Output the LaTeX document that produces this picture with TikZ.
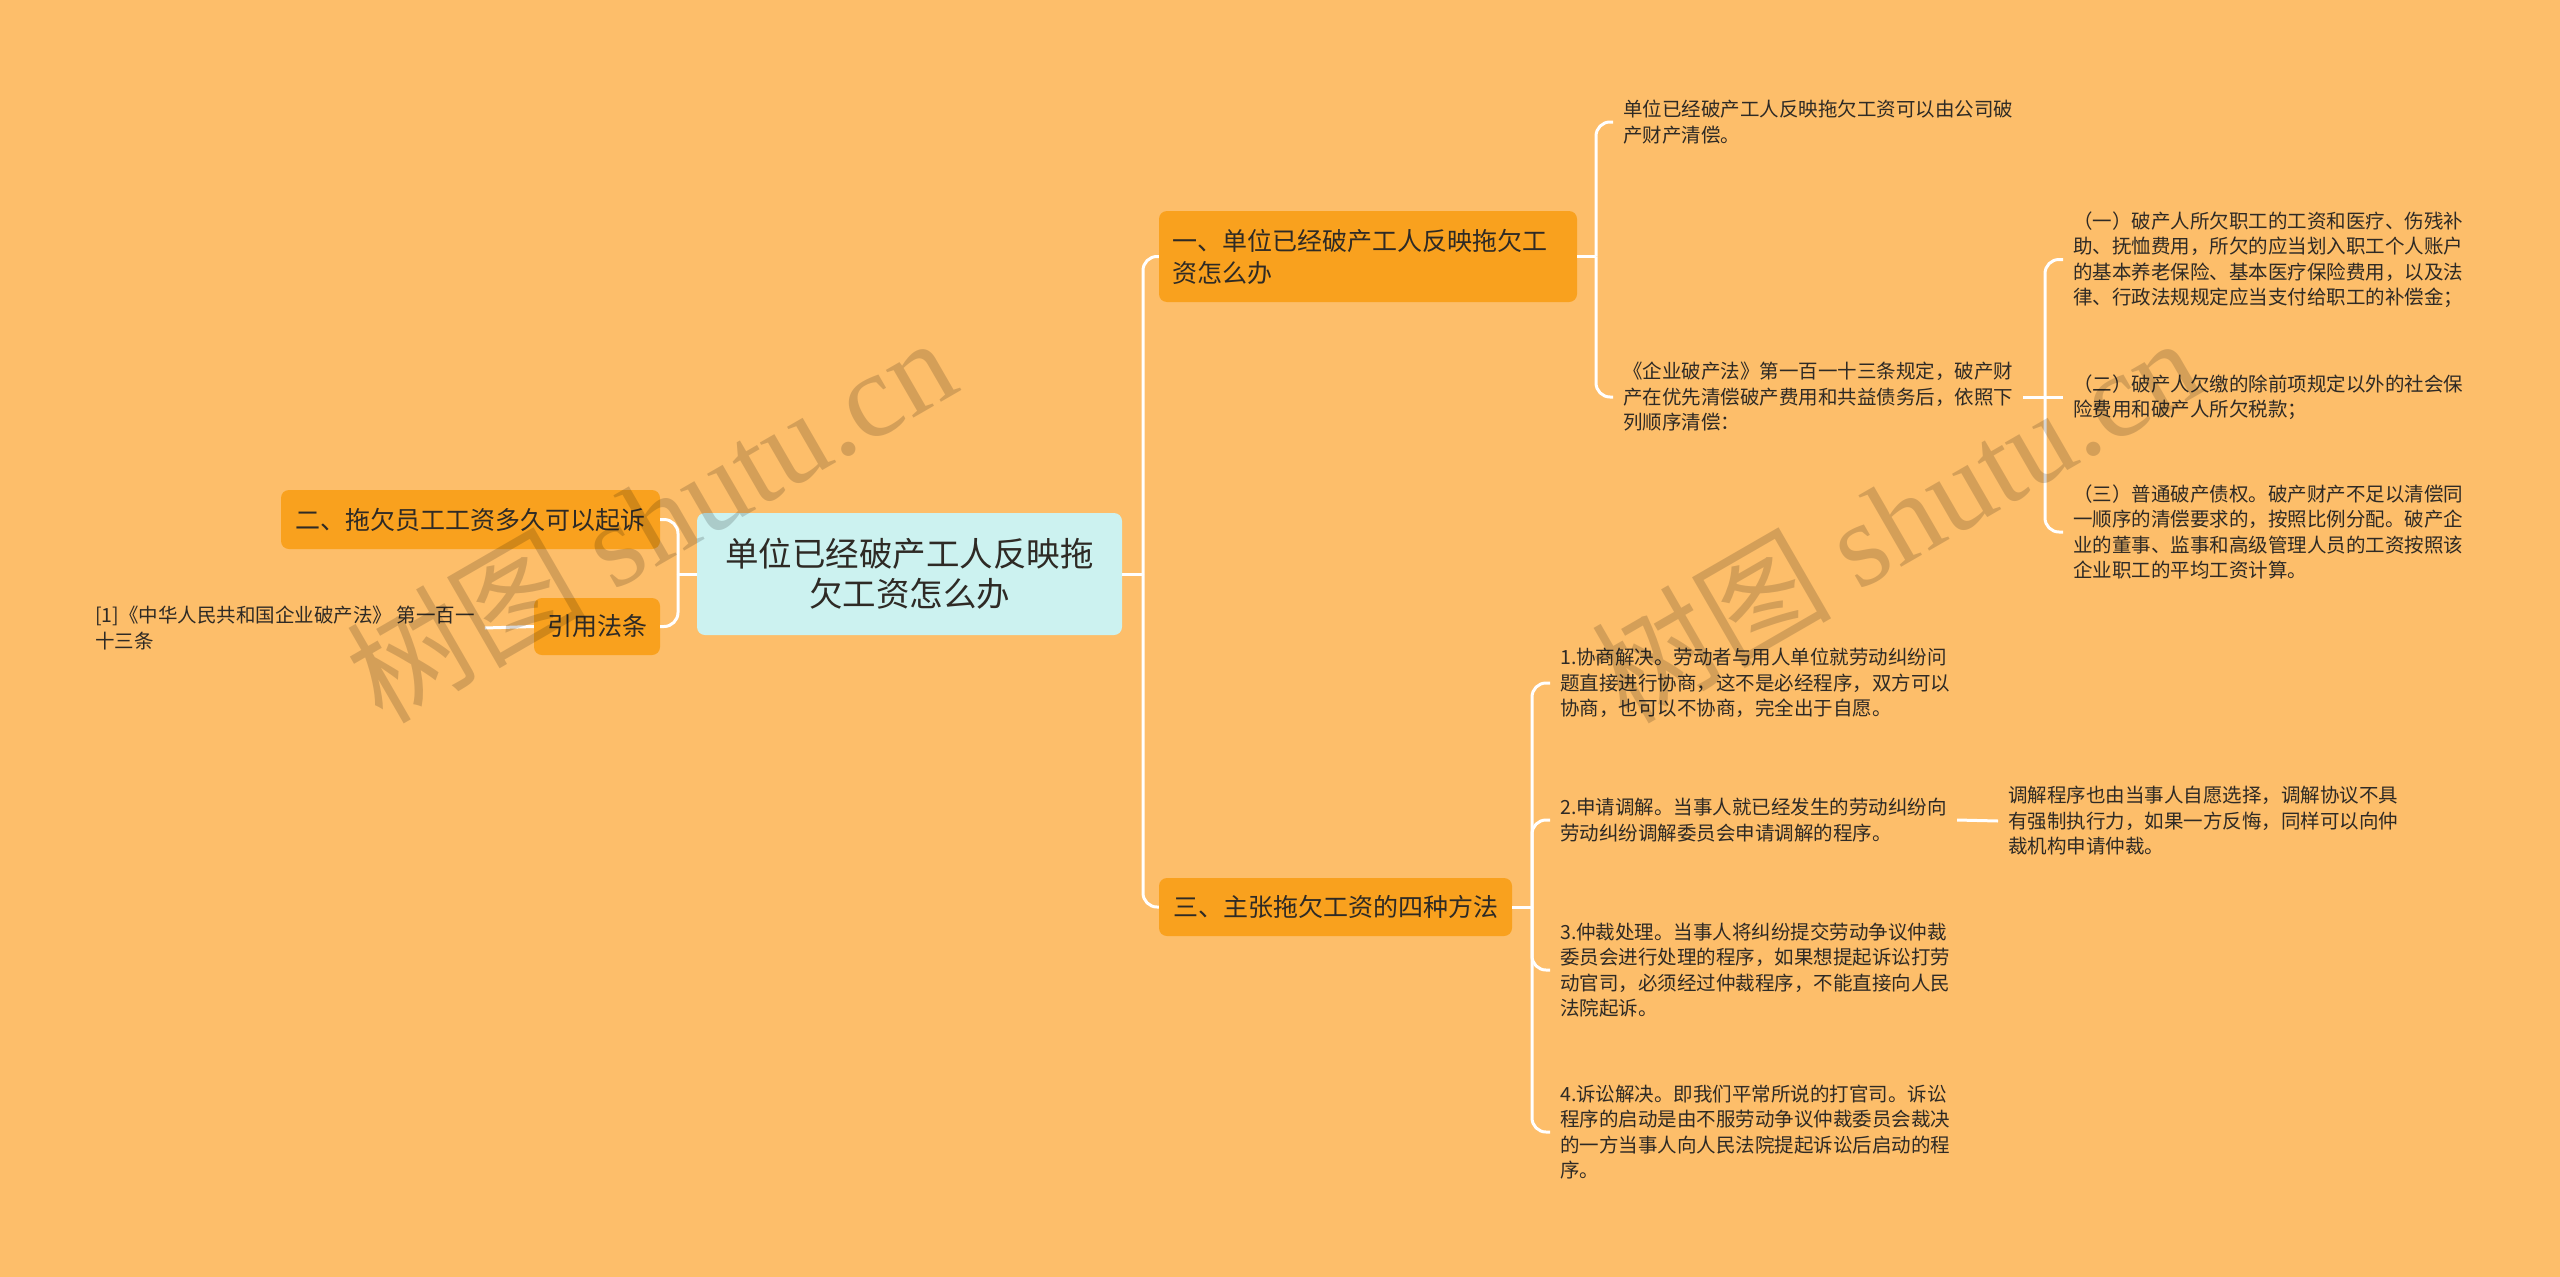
\documentclass[tikz,border=0pt]{standalone}
\usepackage{fontspec}
\setmainfont{Noto Sans CJK SC}
\newfontfamily\wmserif{Liberation Serif}
\newfontfamily\wmcjk{Noto Sans CJK SC}
\definecolor{bgc}{HTML}{FDBE6A}
\definecolor{oboxc}{HTML}{F9A11E}
\definecolor{cboxc}{HTML}{CCF2F0}
\definecolor{txtc}{HTML}{2E2A25}
\begin{document}
\begin{tikzpicture}[x=1pt,y=-1pt,
  conn/.style={draw=white, line width=3pt, rounded corners=14pt},
  obox/.style={fill=oboxc, rounded corners=8pt, text=txtc, inner sep=0pt,
    font=\fontsize{25}{32}\selectfont},
  leaf/.style={inner xsep=10pt, inner ysep=0pt, align=left, text=txtc, anchor=west,
    font=\fontsize{19.5}{25.5}\selectfont},
  wmark/.style={rotate=30, text=black, opacity=0.16, inner sep=0pt}]
\fill[bgc] (0,0) rectangle (2560,1277);
\useasboundingbox (0,0) rectangle (2560,1277);

% main nodes
\node[fill=cboxc, rounded corners=8pt, minimum width=425pt, minimum height=122pt,
  align=center, text=txtc, inner sep=0pt, font=\fontsize{33.5}{40}\selectfont]
  (root) at (909.5,574) {单位已经破产工人反映拖\\欠工资怎么办};
\node[obox, minimum width=418pt, minimum height=91pt, text width=392pt, align=left]
  (b1) at (1368,256.5) {一、单位已经破产工人反映拖欠工\\资怎么办};
\node[obox, minimum width=353pt, minimum height=58pt] (b3) at (1335.5,907) {三、主张拖欠工资的四种方法};
\node[obox, minimum width=379pt, minimum height=59pt] (b2) at (470.5,519.5) {二、拖欠员工工资多久可以起诉};
\node[obox, minimum width=126pt, minimum height=57pt] (cite) at (597,626.5) {引用法条};

% leaves
\node[leaf] (l1a) at (1613,122) {单位已经破产工人反映拖欠工资可以由公司破\\产财产清偿。};
\node[leaf] (l1b) at (1613,397) {《企业破产法》第一百一十三条规定，破产财\\产在优先清偿破产费用和共益债务后，依照下\\列顺序清偿：};
\node[leaf] (s1) at (2063,259.5) {（一）破产人所欠职工的工资和医疗、伤残补\\助、抚恤费用，所欠的应当划入职工个人账户\\的基本养老保险、基本医疗保险费用，以及法\\律、行政法规规定应当支付给职工的补偿金；};
\node[leaf] (s2) at (2063,397) {（二）破产人欠缴的除前项规定以外的社会保\\险费用和破产人所欠税款；};
\node[leaf] (s3) at (2063,532) {（三）普通破产债权。破产财产不足以清偿同\\一顺序的清偿要求的，按照比例分配。破产企\\业的董事、监事和高级管理人员的工资按照该\\企业职工的平均工资计算。};
\node[leaf] (m1) at (1550,683) {1.协商解决。劳动者与用人单位就劳动纠纷问\\题直接进行协商，这不是必经程序，双方可以\\协商，也可以不协商，完全出于自愿。};
\node[leaf] (m2) at (1550,820) {2.申请调解。当事人就已经发生的劳动纠纷向\\劳动纠纷调解委员会申请调解的程序。};
\node[leaf] (m3) at (1550,970) {3.仲裁处理。当事人将纠纷提交劳动争议仲裁\\委员会进行处理的程序，如果想提起诉讼打劳\\动官司，必须经过仲裁程序，不能直接向人民\\法院起诉。};
\node[leaf] (m4) at (1550,1132) {4.诉讼解决。即我们平常所说的打官司。诉讼\\程序的启动是由不服劳动争议仲裁委员会裁决\\的一方当事人向人民法院提起诉讼后启动的程\\序。};
\node[leaf] (n1) at (1998,821) {调解程序也由当事人自愿选择，调解协议不具\\有强制执行力，如果一方反悔，同样可以向仲\\裁机构申请仲裁。};
\node[leaf] (ref) at (85,628) {[1]《中华人民共和国企业破产法》 第一百一\\十三条};

% junctions
\coordinate (jr) at (1143,574);
\coordinate (jl) at (678,574);
\coordinate (j1) at (1596,256.5);
\coordinate (j2) at (2045,397);
\coordinate (j3) at (1532,907);

% connectors
\draw[conn] (root.east) -- (jr);
\draw[conn] (b1.west) -| (jr);
\draw[conn] (b3.west) -| (jr);
\draw[conn] (root.west) -- (jl);
\draw[conn] (b2.east) -| (jl);
\draw[conn] (cite.east) -| (jl);
\draw[conn] (cite.west) -- (ref.east);
\draw[conn] (b1.east) -- (j1);
\draw[conn] (l1a.west) -| (j1);
\draw[conn] (l1b.west) -| (j1);
\draw[conn] (l1b.east) -- (j2);
\draw[conn] (s1.west) -| (j2);
\draw[conn] (j2) -- (s2.west);
\draw[conn] (s3.west) -| (j2);
\draw[conn] (b3.east) -- (j3);
\draw[conn] (m1.west) -| (j3);
\draw[conn] (m2.west) -| (j3);
\draw[conn] (m3.west) -| (j3);
\draw[conn] (m4.west) -| (j3);
\draw[conn] (m2.east) -- (n1.west);

% watermarks
\node[wmark] (wm1) at (650,518) {\fontsize{120}{120}\selectfont\wmcjk 树图 \wmserif shutu.cn};
\node[wmark] (wm2) at (1895,518) {\fontsize{120}{120}\selectfont\wmcjk 树图 \wmserif shutu.cn};
\end{tikzpicture}
\end{document}
